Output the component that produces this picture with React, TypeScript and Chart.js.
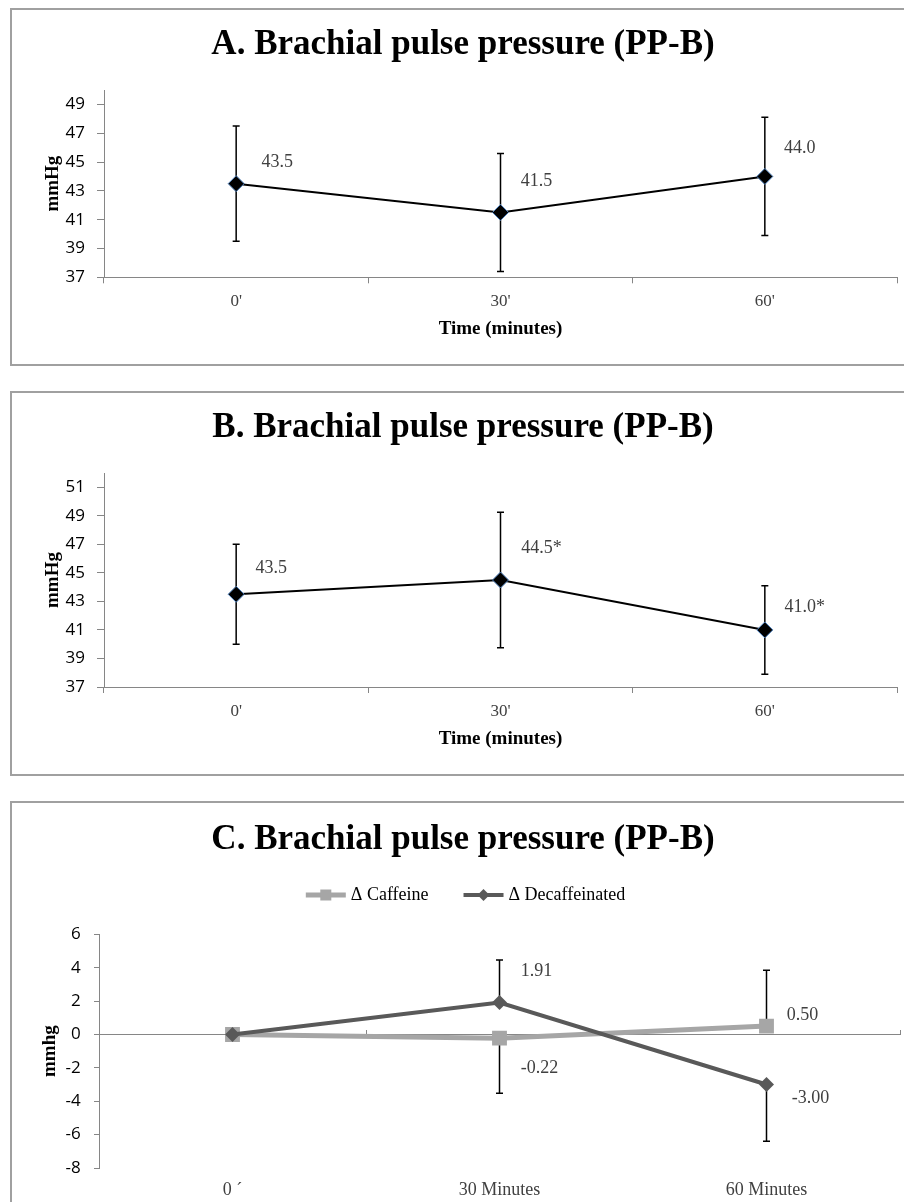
import React, { useEffect, useRef } from 'react';
import { Chart, registerables } from 'chart.js';

Chart.register(...registerables);

// ---------- data ----------
const AB_CATEGORIES = ["0'", "30'", "60'"];
const A_MEAN = [43.5, 41.5, 44.0];
const A_SD = [4.0, 4.1, 4.1];
const A_TICKS = [37, 39, 41, 43, 45, 47, 49];

const B_MEAN = [43.5, 44.5, 41.0];
const B_SD = [3.5, 4.75, 3.1];
const B_MARKS = ['', '*', '*'];
const B_TICKS = [37, 39, 41, 43, 45, 47, 49, 51];

const C_CATEGORIES = ['0 \u00b4', '30 Minutes', '60 Minutes'];
const C_CAFFEINE = [0, -0.22, 0.5];
const C_DECAF = [0, 1.91, -3.0];
const C_CAF_PLUS = [0, 0, 3.35];
const C_CAF_MINUS = [0, 3.3, 0];
const C_DEC_PLUS = [0, 2.55, 0];
const C_DEC_MINUS = [0, 0, 3.4];
const C_LABEL_SHOWN = [false, true, true];
const C_TICKS = [-8, -6, -4, -2, 0, 2, 4, 6];

// ---------- styles ----------
const GRAY = '#868686';
const SERIF = "'Liberation Serif', 'DejaVu Serif', serif";
const SANS = "'Open Sans', 'Liberation Sans', sans-serif";

// ---------- plugins ----------
const errorBarsPlugin = {
  id: 'errorBars',
  beforeDatasetsDraw(chart: any, _a: any, opts: any) {
    const ctx = chart.ctx;
    ctx.save();
    chart.data.datasets.forEach((ds: any, i: number) => {
      if (!ds.errPlus && !ds.errMinus) return;
      const meta = chart.getDatasetMeta(i);
      const ys = chart.scales[meta.yAxisID];
      ctx.strokeStyle = opts.color || '#000';
      ctx.lineWidth = opts.width || 1.5;
      meta.data.forEach((pt: any, j: number) => {
        const v = ds.data[j];
        const x = pt.x;
        const y0 = ys.getPixelForValue(v);
        const parts: number[] = [];
        if (ds.errPlus && ds.errPlus[j] > 0) parts.push(v + ds.errPlus[j]);
        if (ds.errMinus && ds.errMinus[j] > 0) parts.push(v - ds.errMinus[j]);
        parts.forEach((end) => {
          const y1 = ys.getPixelForValue(end);
          ctx.beginPath();
          ctx.moveTo(x, y0);
          ctx.lineTo(x, y1);
          ctx.moveTo(x - opts.cap, y1);
          ctx.lineTo(x + opts.cap, y1);
          ctx.stroke();
        });
      });
    });
    ctx.restore();
  },
};

const valueLabelsPlugin = {
  id: 'valueLabels',
  afterDatasetsDraw(chart: any, _a: any, opts: any) {
    const ctx = chart.ctx;
    ctx.save();
    ctx.font = `${opts.size}px ${SERIF}`;
    ctx.fillStyle = opts.color;
    ctx.textAlign = 'center';
    ctx.textBaseline = 'middle';
    chart.data.datasets.forEach((ds: any, i: number) => {
      if (!ds.valueLabels) return;
      const meta = chart.getDatasetMeta(i);
      meta.data.forEach((pt: any, j: number) => {
        const t = ds.valueLabels[j];
        if (!t) return;
        const off = ds.labelOffsets[j];
        ctx.fillText(t, pt.x + off[0], pt.y + off[1]);
      });
    });
    ctx.restore();
  },
};

const lineLegendPlugin = {
  id: 'lineLegend',
  afterDraw(chart: any, _a: any, opts: any) {
    if (!opts || !opts.display) return;
    const ctx = chart.ctx;
    ctx.save();
    ctx.font = `${opts.size}px ${SERIF}`;
    const items = chart.data.datasets.map((ds: any) => ({
      ds,
      w: opts.sample + opts.gap + ctx.measureText(ds.label).width,
    }));
    const total = items.reduce((a: number, b: any) => a + b.w, 0) + opts.spacing * (items.length - 1);
    let x = opts.cx - total / 2;
    const y = opts.cy;
    items.forEach(({ ds, w }: any) => {
      ctx.strokeStyle = ds.borderColor;
      ctx.lineWidth = ds.borderWidth;
      ctx.beginPath();
      ctx.moveTo(x, y);
      ctx.lineTo(x + opts.sample, y);
      ctx.stroke();
      const mx = x + opts.sample / 2;
      const r = ds.legendMarker;
      ctx.fillStyle = ds.pointBackgroundColor;
      ctx.beginPath();
      if (ds.pointStyle === 'rect') {
        ctx.rect(mx - r, y - r, 2 * r, 2 * r);
      } else {
        ctx.moveTo(mx, y - r);
        ctx.lineTo(mx + r, y);
        ctx.lineTo(mx, y + r);
        ctx.lineTo(mx - r, y);
        ctx.closePath();
      }
      ctx.fill();
      ctx.fillStyle = opts.color;
      ctx.textAlign = 'left';
      ctx.textBaseline = 'middle';
      ctx.fillText(ds.label, x + opts.sample + opts.gap, y);
      x += w + opts.spacing;
    });
    ctx.restore();
  },
};

// ---------- config helpers ----------
function yAxis(min: number, max: number, ticks: number[], title: string, width: number, tl: number, pad: number, titlePad: number) {
  return {
    type: 'linear',
    min,
    max,
    afterBuildTicks: (s: any) => {
      s.ticks = ticks.map((v) => ({ value: v }));
    },
    afterFit: (s: any) => {
      s.width = width;
    },
    border: { display: true, color: GRAY, width: 1 },
    grid: { display: true, drawOnChartArea: false, drawTicks: true, tickLength: tl, color: GRAY },
    ticks: { font: { family: SANS, size: 17 }, color: '#000', padding: pad },
    title: {
      display: true,
      text: title,
      font: { family: SERIF, size: 19, weight: 'bold' },
      color: '#000',
      padding: { top: titlePad, bottom: 0 },
    },
  };
}

function abConfig(title: string, mean: number[], sd: number[], marks: string[], ticks: number[], max: number, offsets: number[][], pad: any) {
  return {
    type: 'line',
    data: {
      labels: AB_CATEGORIES,
      datasets: [
        {
          label: 'PP-B',
          data: mean,
          borderColor: '#000',
          borderWidth: 2,
          tension: 0,
          pointStyle: 'rectRot',
          pointRadius: 8,
          pointHoverRadius: 8,
          pointBackgroundColor: '#000',
          pointBorderColor: '#4F81BD',
          pointBorderWidth: 1,
          errPlus: sd,
          errMinus: sd,
          valueLabels: mean.map((v, i) => v.toFixed(1) + marks[i]),
          labelOffsets: offsets,
        },
      ],
    },
    options: {
      responsive: false,
      animation: false,
      devicePixelRatio: 1,
      events: [],
      layout: { padding: pad.layout },
      scales: {
        x: {
          type: 'category',
          offset: true,
          afterFit: (s: any) => {
            s.height = 70;
          },
          border: { display: true, color: GRAY, width: 1 },
          grid: { display: true, drawOnChartArea: false, offset: true, tickLength: 6, color: GRAY },
          ticks: { font: { family: SERIF, size: 17 }, color: '#404040', padding: pad.xTickPad },
          title: {
            display: true,
            text: 'Time (minutes)',
            font: { family: SERIF, size: 19, weight: 'bold' },
            color: '#000',
            padding: { top: 0, bottom: pad.xTitlePad },
          },
        },
        y: yAxis(37, max, ticks, 'mmHg', 75, 7, 12, 12.6),
      },
      plugins: {
        legend: { display: false },
        tooltip: { enabled: false },
        title: {
          display: true,
          text: title,
          font: { family: SERIF, size: 35, weight: 'bold' },
          color: '#000',
          padding: pad.title,
        },
        errorBars: { color: '#000', width: 1.5, cap: 3.5 },
        valueLabels: { size: 18, color: '#404040' },
      },
    },
    plugins: [errorBarsPlugin, valueLabelsPlugin],
  };
}

function cConfig() {
  return {
    type: 'line',
    data: {
      labels: C_CATEGORIES,
      datasets: [
        {
          label: '\u0394 Caffeine',
          data: C_CAFFEINE,
          order: 2,
          borderColor: '#A6A6A6',
          borderWidth: 5,
          tension: 0,
          pointStyle: 'rect',
          pointRadius: 10.5,
          pointHoverRadius: 10.5,
          pointBackgroundColor: '#A6A6A6',
          pointBorderColor: '#A6A6A6',
          pointBorderWidth: 0,
          legendMarker: 5.5,
          errPlus: C_CAF_PLUS,
          errMinus: C_CAF_MINUS,
          valueLabels: C_CAFFEINE.map((v, i) => (C_LABEL_SHOWN[i] ? v.toFixed(2) : '')),
          labelOffsets: [[0, 0], [40, 30], [36, -11]],
        },
        {
          label: '\u0394 Decaffeinated',
          data: C_DECAF,
          order: 1,
          borderColor: '#595959',
          borderWidth: 4,
          tension: 0,
          pointStyle: 'rectRot',
          pointRadius: 7.5,
          pointHoverRadius: 7.5,
          pointBackgroundColor: '#595959',
          pointBorderColor: '#595959',
          pointBorderWidth: 0,
          legendMarker: 6,
          errPlus: C_DEC_PLUS,
          errMinus: C_DEC_MINUS,
          valueLabels: C_DECAF.map((v, i) => (C_LABEL_SHOWN[i] ? v.toFixed(2) : '')),
          labelOffsets: [[0, 0], [37, -31], [44, 14]],
        },
      ],
    },
    options: {
      responsive: false,
      animation: false,
      devicePixelRatio: 1,
      events: [],
      layout: { padding: { left: 14, right: 14, top: 0, bottom: 0 } },
      scales: {
        x: {
          type: 'category',
          offset: true,
          afterFit: (s: any) => {
            s.height = 34;
          },
          border: { display: false },
          grid: { display: false, drawTicks: false },
          ticks: { font: { family: SERIF, size: 18 }, color: '#404040', padding: 11.2 },
        },
        x2: {
          type: 'category',
          axis: 'x',
          offset: true,
          position: { y: 0 },
          border: { display: true, color: GRAY, width: 1 },
          grid: { display: true, drawOnChartArea: false, offset: true, tickLength: -5, color: GRAY },
          ticks: { display: false },
        },
        y: yAxis(-8, 6, C_TICKS, 'mmhg', 73, 5, 13.3, 12.6),
      },
      plugins: {
        legend: { display: false },
        tooltip: { enabled: false },
        title: {
          display: true,
          text: 'C. Brachial pulse pressure (PP-B)',
          font: { family: SERIF, size: 35, weight: 'bold' },
          color: '#000',
          padding: { top: 16, bottom: 73.3 },
        },
        errorBars: { color: '#000', width: 1.5, cap: 3.5 },
        valueLabels: { size: 18, color: '#404040' },
        lineLegend: { display: true, size: 18, color: '#000', sample: 40, gap: 5, spacing: 35, cx: 453.5, cy: 92 },
      },
    },
    plugins: [errorBarsPlugin, valueLabelsPlugin, lineLegendPlugin],
  };
}

function ChartCanvas({ make, left, top, width, height }: any) {
  const ref = useRef<HTMLCanvasElement>(null);
  useEffect(() => {
    const chart = new Chart(ref.current as HTMLCanvasElement, make());
    return () => chart.destroy();
  }, []);
  return (
    <canvas
      ref={ref}
      width={width}
      height={height}
      style={{ position: 'absolute', left, top, width, height }}
    />
  );
}

function Frame({ top, height }: any) {
  return (
    <div
      style={{
        position: 'absolute',
        left: 10,
        top,
        width: 904,
        height,
        boxSizing: 'border-box',
        border: '2px solid #A0A0A0',
      }}
    />
  );
}

export default function App() {
  return (
    <div
      style={{
        position: 'absolute',
        left: 0,
        top: 0,
        width: 904,
        height: 1202,
        overflow: 'hidden',
        background: '#fff',
      }}
    >
      <Frame top={8} height={358} />
      <Frame top={391} height={385} />
      <Frame top={801} height={420} />
      <ChartCanvas
        left={12}
        top={10}
        width={902}
        height={354}
        make={() =>
          abConfig('A. Brachial pulse pressure (PP-B)', A_MEAN, A_SD, ['', '', ''], A_TICKS, 50,
            [[41, -21], [36, -31], [35, -28]],
            { layout: { left: 17, right: 17, top: 0, bottom: 16.7 }, title: { top: 13.5, bottom: 24.5 }, xTickPad: 7.9, xTitlePad: 6.4 })
        }
      />
      <ChartCanvas
        left={12}
        top={393}
        width={902}
        height={380}
        make={() =>
          abConfig('B. Brachial pulse pressure (PP-B)', B_MEAN, B_SD, B_MARKS, B_TICKS, 52,
            [[35, -26], [41, -32], [40, -23]],
            { layout: { left: 17, right: 17, top: 0, bottom: 16 }, title: { top: 14, bottom: 24 }, xTickPad: 8.2, xTitlePad: 6.6 })
        }
      />
      <ChartCanvas left={12} top={803} width={902} height={399} make={cConfig} />
    </div>
  );
}
